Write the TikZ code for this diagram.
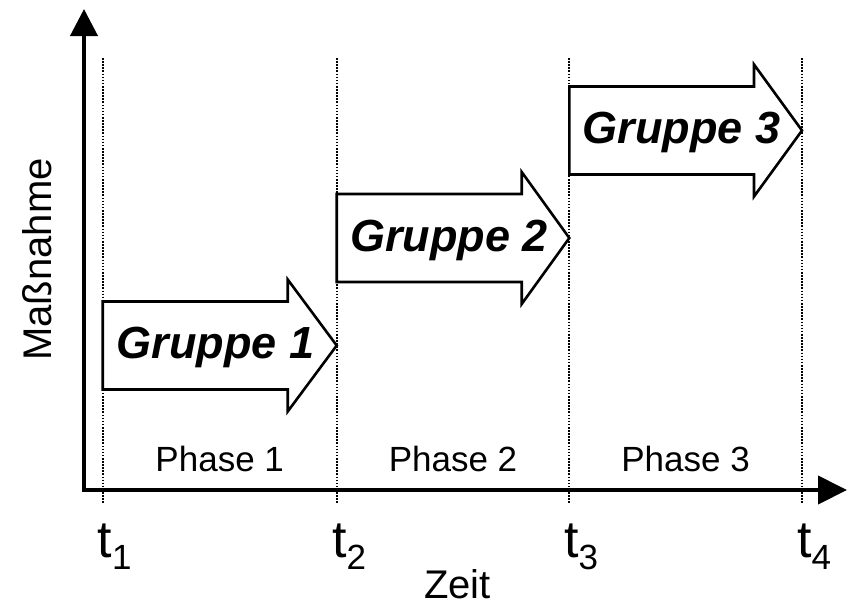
\documentclass[tikz,border=0pt]{standalone}
\usepackage{fontspec}
\setmainfont{Liberation Sans}
\usetikzlibrary{arrows.meta}
\begin{document}
\begin{tikzpicture}[x=1pt,y=-1pt,
  axis/.style={line width=4pt, line join=miter},
  guide/.style={line width=1.7pt, dash pattern=on 1.6pt off 1.5pt},
  blockarrow/.style={draw, fill=white, line width=2.6pt, line join=miter},
  gtext/.style={font=\fontsize{45}{45}\selectfont\bfseries\itshape, anchor=base, inner sep=0pt},
  phase/.style={font=\fontsize{35}{35}\selectfont, anchor=base, inner sep=0pt},
  tlab/.style={font=\fontsize{52}{52}\selectfont, anchor=base west, inner sep=0pt},
  axlabel/.style={font=\fontsize{40}{40}\selectfont, inner sep=0pt},
]
\useasboundingbox (0,0) rectangle (850,605);
\fill[white] (0,0) rectangle (850,605);

% time guides
\foreach \n/\x in {1/102.7,2/336.7,3/569.3,4/802} {
  \coordinate (g\n top) at (\x,58);
  \coordinate (g\n bot) at (\x,503);
  \draw[guide] (g\n top) -- (g\n bot);
}

% block arrows
\draw[blockarrow] (102.7,301.5) -- (287.7,301.5) -- (287.7,279.5) -- (336.7,345.5)
  -- (287.7,411.5) -- (287.7,389.5) -- (102.7,389.5) -- cycle;
\draw[blockarrow] (336.7,194) -- (521.7,194) -- (521.7,172) -- (569.3,238)
  -- (521.7,304) -- (521.7,282) -- (336.7,282) -- cycle;
\draw[blockarrow] (569.3,86.5) -- (754,86.5) -- (754,64.5) -- (802,130.5)
  -- (754,196.5) -- (754,174.5) -- (569.3,174.5) -- cycle;

\node[gtext] (grp1) at (215.7,358.5) {Gruppe 1};
\node[gtext] (grp2) at (449,251) {Gruppe 2};
\node[gtext] (grp3) at (681.7,143.5) {Gruppe 3};

% axes
\coordinate (ytop) at (84,9);
\coordinate (origin) at (84,490);
\coordinate (xend) at (847,490);
\draw[axis, {Triangle[length=27pt,width=27pt]}-{Triangle[length=29pt,width=28pt]}]
  (ytop) -- (origin) -- (xend);

% phase labels
\node[phase] (ph1) at (219.7,471.7) {Phase 1};
\node[phase] (ph2) at (453,471.7) {Phase 2};
\node[phase] (ph3) at (685.6,471.7) {Phase 3};

% time labels
\foreach \n/\x in {1/97.5,2/332,3/564,4/797} {
  \node[tlab] (t\n) at (\x,557) {t\raisebox{-12pt}{\fontsize{35}{35}\selectfont \n}};
}

% axis labels
\node[axlabel, anchor=base] (zeit) at (457.5,598) {Zeit};
\node[axlabel, rotate=90] (mass) at (37,259.5) {Maßnahme};
\end{tikzpicture}
\end{document}
